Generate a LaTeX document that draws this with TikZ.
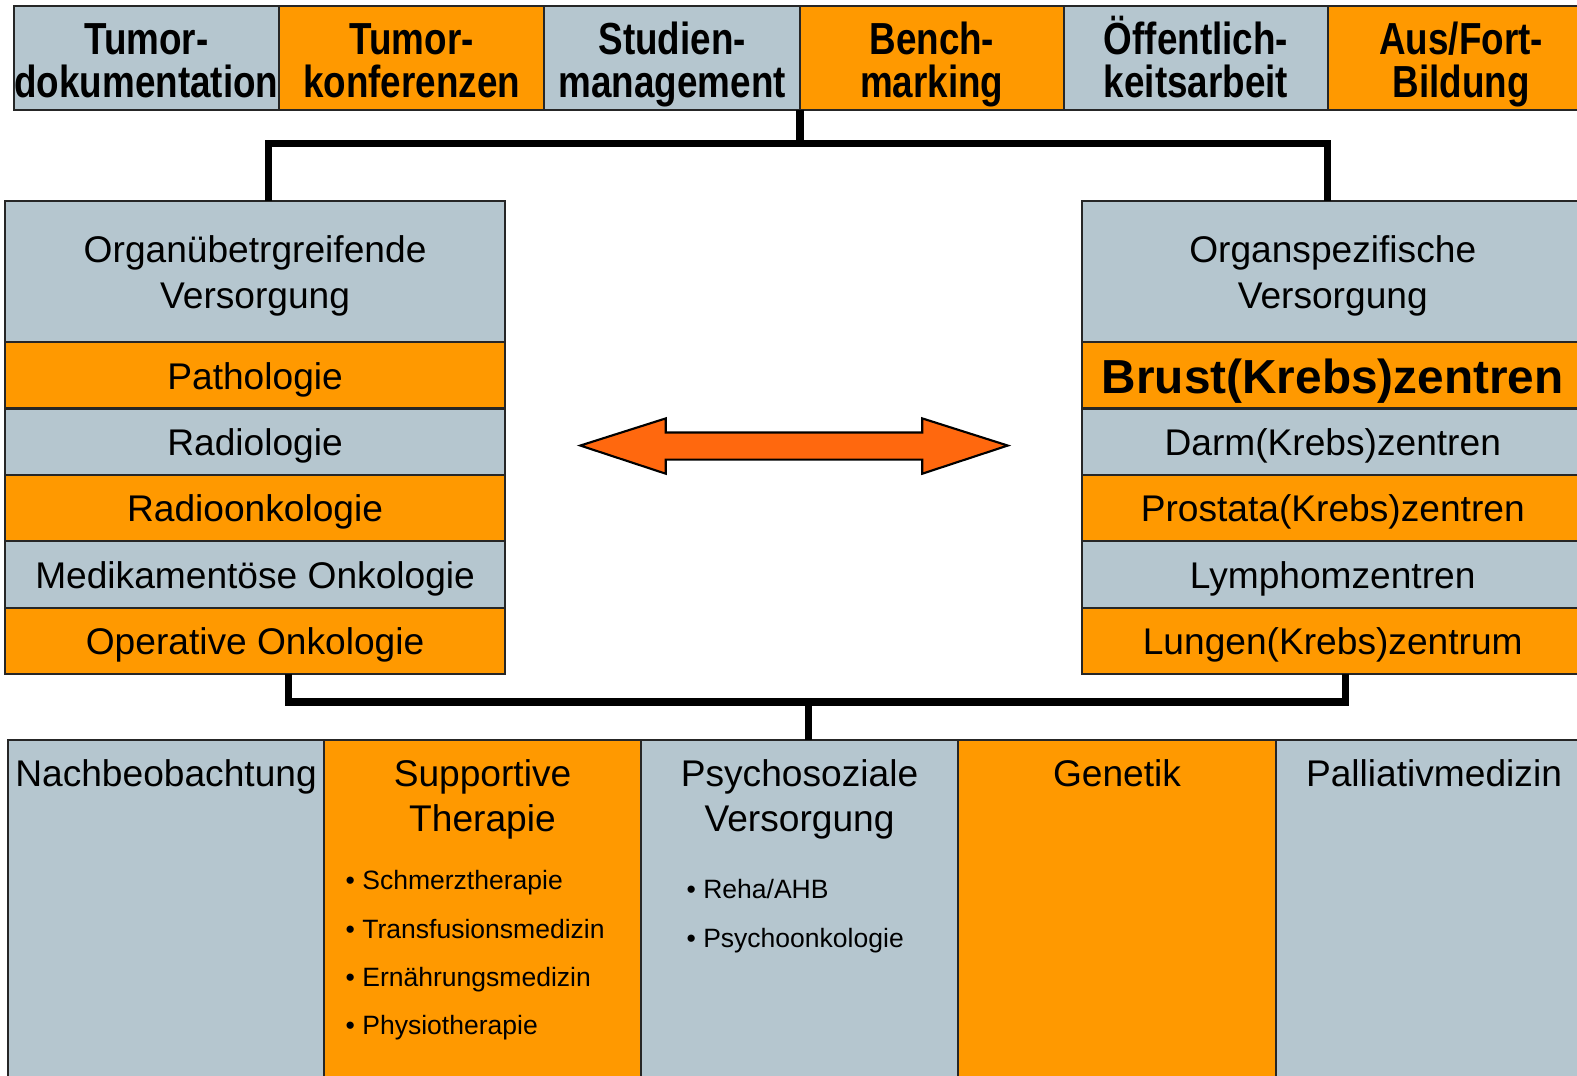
\documentclass[tikz,border=0pt]{standalone}
\usepackage{fontspec}
\setmainfont{Liberation Sans}
\newfontfamily\schmalfont[FakeStretch=0.82]{Liberation Sans}
\usetikzlibrary{positioning}
\definecolor{blaugrau}{RGB}{181,198,207}
\definecolor{kastenorange}{RGB}{255,153,0}
\definecolor{pfeilrot}{RGB}{255,104,14}
\newcommand{\kopfoben}{\rule{0pt}{0.455cm}}
\newcommand{\kopfunten}{\vphantom{g}}
\newcommand{\zeilenstrut}{\rule{0pt}{0.35cm}}

\begin{document}
\begin{tikzpicture}[x=0.01cm, y=-0.01cm,
    kasten/.style = {draw=black!85, line width=0.6pt, inner sep=0pt, outer sep=0pt, anchor=north west, align=center},
    grau/.style = {kasten, fill=blaugrau},
    orng/.style = {kasten, fill=kastenorange},
    kopffett/.style = {minimum height=1.03cm, font=\schmalfont\bfseries\fontsize{12.7}{12.2}\selectfont},
    block/.style = {font=\fontsize{10.5}{13.1}\selectfont},
    lzeile/.style = {block, minimum width=4.97cm, minimum height=0.66cm, text height=0.35cm, text depth=0.074cm},
    rzeile/.style = {block, minimum width=4.98cm, minimum height=0.66cm, text height=0.35cm, text depth=0.074cm},
    kopfzeile/.style = {block, minimum height=1.40cm},
    unten/.style = {minimum height=3.6cm},
    titel/.style = {inner sep=0pt, anchor=north, align=center, font=\fontsize{10.5}{12.5}\selectfont},
    liste/.style = {inner sep=0pt, anchor=north west, align=left, font=\fontsize{7.5}{13.66}\selectfont},
    linie/.style = {line width=2pt}]
    \useasboundingbox (0,0) rectangle (1568,1069);
    \clip (0,0) rectangle (1568,1069);

    % obere Reihe
    \node[grau, kopffett, minimum width=2.63cm] (doku) at (14,6) {\kopfoben Tumor-\\dokumentation\kopfunten};
    \node[orng, kopffett, minimum width=2.64cm, right=0pt of doku] (konf) {\kopfoben Tumor-\\konferenzen\kopfunten};
    \node[grau, kopffett, minimum width=2.54cm, right=0pt of konf] (stud) {\kopfoben Studien-\\management\kopfunten};
    \node[orng, kopffett, minimum width=2.62cm, right=0pt of stud] (bench) {\kopfoben Bench-\\marking\kopfunten};
    \node[grau, kopffett, minimum width=2.63cm, right=0pt of bench] (oeff) {\kopfoben Öffentlich-\\keitsarbeit\kopfunten};
    \node[orng, kopffett, minimum width=2.64cm, right=0pt of oeff] (fort) {\kopfoben Aus/Fort-\\Bildung\kopfunten};

    % linke Spalte
    \node[grau, kopfzeile, minimum width=4.97cm] (organ) at (5,200) {\zeilenstrut Organübetrgreifende\\Versorgung};
    \node[orng, lzeile, below=0pt of organ] (patho) {Pathologie};
    \node[grau, lzeile, below=0pt of patho] (radio) {Radiologie};
    \node[orng, lzeile, below=0pt of radio] (radonk) {Radioonkologie};
    \node[grau, lzeile, below=0pt of radonk] (medonk) {Medikamentöse Onkologie};
    \node[orng, lzeile, below=0pt of medonk] (oponk) {Operative Onkologie};

    % rechte Spalte
    \node[grau, kopfzeile, minimum width=4.98cm] (spez) at (1076,200) {\zeilenstrut Organspezifische\\Versorgung};
    \node[orng, rzeile, below=0pt of spez, text height=0.45cm, text depth=0.095cm, font=\bfseries\fontsize{13.5}{15}\selectfont] (brust) {Brust(Krebs)zentren};
    \node[grau, rzeile, below=0pt of brust] (darm) {Darm(Krebs)zentren};
    \node[orng, rzeile, below=0pt of darm] (prost) {Prostata(Krebs)zentren};
    \node[grau, rzeile, below=0pt of prost] (lymph) {Lymphomzentren};
    \node[orng, rzeile, below=0pt of lymph] (lunge) {Lungen(Krebs)zentrum};

    % Doppelpfeil
    \filldraw[fill=pfeilrot, draw=black, line width=0.6pt] (577,443) -- (662,416) -- (662,430) -- (917,430) -- (917,416)
        -- (1002,443) -- (917,471) -- (917,457) -- (662,457) -- (662,471) -- cycle;

    % untere Reihe
    \node[grau, unten, minimum width=3.14cm] (nach) at (8,736) {};
    \node[orng, unten, minimum width=3.15cm, right=0pt of nach] (supp) {};
    \node[grau, unten, minimum width=3.15cm, right=0pt of supp] (psych) {};
    \node[orng, unten, minimum width=3.16cm, right=0pt of psych] (gen) {};
    \node[grau, unten, minimum width=3.14cm, right=0pt of gen] (pall) {};

    \node[titel, below=0.19cm of nach.north] (nachtxt) {Nachbeobachtung};
    \node[titel, below=0.19cm of supp.north] (supptxt) {Supportive\\Therapie};
    \node[titel, below=0.19cm of psych.north] (psychtxt) {Psychosoziale\\Versorgung};
    \node[titel, below=0.19cm of gen.north] (gentxt) {Genetik};
    \node[titel, below=0.19cm of pall.north] (palltxt) {Palliativmedizin};

    \node[liste] (supplist) at (343,865) {• Schmerztherapie\\• Transfusionsmedizin\\• Ernährungsmedizin\\• Physiotherapie};
    \node[liste] (psychlist) at (682,874) {• Reha/AHB\\• Psychoonkologie};

    % Verbindungen
    \coordinate (ol) at (267,143);
    \coordinate (or) at (1320,143);
    \draw[linie] (stud.south east) |- (ol);
    \draw[linie] (ol |- organ.north) -- (ol) -- (or) -- (or |- spez.north);
    \coordinate (ul) at (287,698);
    \coordinate (ur) at (1338,698);
    \coordinate (um) at (804,698);
    \draw[linie] (ul |- oponk.south) -- (ul) -- (ur) -- (ur |- lunge.south);
    \draw[linie] (um) -- (um |- psych.north);
\end{tikzpicture}
\end{document}
